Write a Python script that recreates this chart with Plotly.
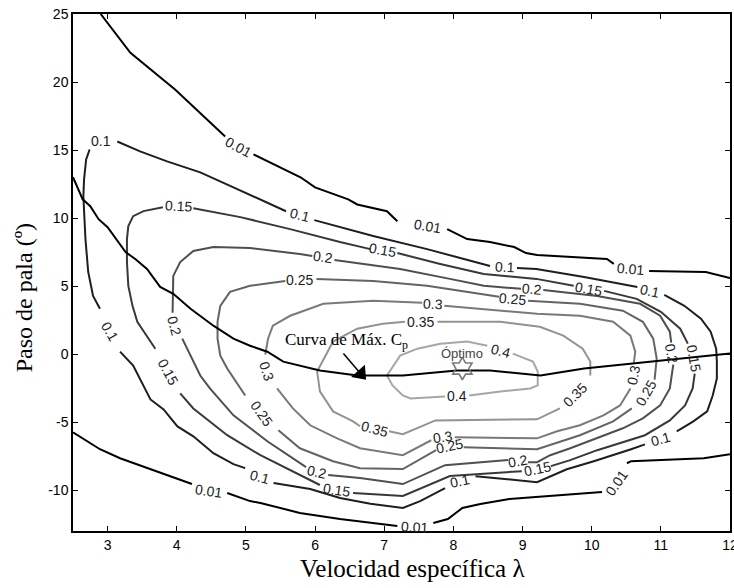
import plotly.graph_objects as go

# ---------------- data (lambda, pitch) ----------------
x_ticks = [3, 4, 5, 6, 7, 8, 9, 10, 11, 12]
y_ticks = [-10, -5, 0, 5, 10, 15, 20, 25]
y_tick_labels = ["-10", "-5", "0", "5", "10", "15", "20", "25"]

# Cp = 0.01 (two branches)
cp001_up_x = [2.90, 3.33, 3.98, 4.34, 4.70, None, 5.11, 5.40, 5.79, 6.00, 6.48, 6.61, 7.04, 7.19, None,
              7.91, 8.20, 8.53, 8.88, 9.05, 9.21, 10.22, 10.32, None, 10.83, 11.65, 12.0]
cp001_up_y = [25.0, 22.15, 19.44, 17.75, 16.0, None, 14.68, 13.95, 13.0, 12.26, 11.38, 11.0, 10.5, 9.77, None,
              9.19, 8.46, 8.24, 7.87, 7.43, 7.28, 7.0, 6.63, None, 6.11, 6.04, 5.6]
cp001_lo_x = [2.5, 2.89, 3.18, 3.62, 4.0, 4.22, None, 4.73, 5.06, 5.21, 5.78, 6.36, 6.94, 7.19, None,
              7.71, 7.92, 8.13, 8.39, 8.81, 9.21, 10.15, None, 10.51, 10.57, 11.62, 12.0]
cp001_lo_y = [-5.74, -6.99, -7.65, -8.45, -9.19, -9.55, None, -10.21, -10.8, -10.94, -11.67, -12.12, -12.48, -12.63, None,
              -12.41, -12.12, -11.31, -11.02, -10.65, -10.5, -10.14, None, -8.02, -7.87, -7.65, -7.36]

# Cp = 0.1
cp010_x = [3.14, 3.47, 3.86, 4.34, 4.82, 5.21, 5.58, None, 5.99, 6.84, 7.62, 8.53, None, 8.92, 9.2, 9.89, 10.66, None,
           11.05, 11.34, 11.58, 11.72, 11.8, 11.81, 11.81, 11.75, 11.67, 11.47, 11.23, None,
           10.77, 10.57, 10.03, 9.64, 9.21, 8.53, 8.32, None, 7.88, 7.52, 7.27, 6.8, 6.36, 5.93, 5.4, None,
           4.99, 4.82, 4.53, 4.24, 4.01, 3.81, 3.62, 3.52, 3.37, 3.18, None,
           2.89, 2.79, 2.72, 2.68, 2.65, 2.66, 2.69, 2.74]
cp010_y = [15.63, 14.9, 14.17, 13.36, 12.26, 11.38, 10.5, None, 9.85, 8.68, 7.72, 6.48, None, 6.33, 6.26, 5.67, 4.94, None,
           4.36, 3.55, 2.6, 1.65, 0.4, -0.55, -1.79, -3.04, -4.21, -4.94, -5.67, None,
           -6.63, -6.99, -7.87, -8.46, -9.41, -9.11, -8.97, None, -9.85, -10.8, -11.31, -11.0, -10.58, -9.92, -9.48, None,
           -8.38, -8.09, -7.28, -6.04, -5.31, -4.06, -3.33, -2.38, -0.84, 0.18, None,
           3.33, 4.28, 6.04, 8.46, 11.6, 12.85, 14.31, 15.04]

# Cp = 0.15
cp015_x = [4.24, 4.92, 5.64, 6.36, 6.80, None, 7.19, 7.81, 8.44, 9.2, 9.74, None, 10.18, 10.65, 11.0, 11.28, 11.39, None,
           11.49, 11.46, 11.35, 11.13, 10.77, 10.41, 10.08, 9.69, 9.41, None, 8.99, 7.95, 7.27, 6.55, None,
           6.07, 5.68, 5.21, 4.73, 4.24, 4.05, None, 3.69, 3.57, 3.43, 3.36, 3.3, 3.28, 3.28, 3.3, 3.37, 3.52, 3.8]
cp015_y = [10.73, 10.07, 9.19, 8.24, 7.72, None, 7.43, 6.63, 5.89, 5.53, 5.02, None, 4.65, 4.06, 3.11, 1.87, 0.77, None,
           -1.43, -2.52, -3.77, -4.87, -5.96, -6.55, -7.06, -7.79, -8.23, None, -8.6, -8.96, -10.43, -10.21, None,
           -9.62, -8.6, -7.43, -5.96, -3.99, -2.89, None, 0.4, 1.36, 2.38, 3.55, 5.02, 6.77, 8.46, 9.41, 10.14, 10.51, 10.8]

# Cp = 0.2
cp020_x = [6.28, 7.23, 7.95, 8.44, 8.98, None, 9.3, 10.08, 10.7, 10.99, 11.13, 11.15, None,
           11.18, 11.13, 10.99, 10.74, 10.45, 10.08, 9.69, 9.4, 9.21, 9.08, None, 8.79, 7.88, 7.27, 6.65, 6.19, None,
           5.87, 5.31, 4.82, 4.48, 4.34, 4.2, 4.08, None, 3.94, 3.94, 3.95, 4.05, 4.24, 4.53, 5.06, 5.78, 5.96]
cp020_y = [6.92, 6.26, 5.53, 5.02, 4.8, None, 4.72, 4.28, 3.7, 2.82, 1.65, 0.84, None,
           -0.77, -2.52, -3.77, -4.72, -5.45, -6.18, -6.92, -7.43, -7.94, -7.94, None, -7.79, -8.16, -9.55, -9.11, -8.89, None,
           -8.31, -6.4, -4.5, -2.52, -1.57, -0.11, 1.14, None, 3.04, 4.8, 5.75, 6.77, 7.58, 7.87, 7.8, 7.36, 7.21]

# Cp = 0.25
cp025_x = [6.02, 6.84, 7.62, 8.44, 8.66, None, 9.08, 9.83, 10.45, 10.74, 10.89, 10.94, 10.91, None,
           10.58, 10.31, 9.83, 9.4, 9.21, 8.15, None, 7.75, 7.27, 6.65, 6.26, 5.78, 5.47, None,
           4.99, 4.86, 4.73, 4.63, 4.59, 4.59, 4.63, 4.77, 5.06, 5.57]
cp025_y = [5.53, 5.38, 5.02, 4.36, 4.21, None, 3.92, 3.7, 3.19, 2.38, 1.14, -0.33, -1.87, None,
           -3.99, -4.94, -5.96, -6.7, -6.99, -6.84, None, -7.06, -8.45, -8.38, -7.87, -6.92, -5.6, None,
           -3.04, -2.08, -1.06, -0.11, 1.13, 2.38, 3.55, 4.58, 5.02, 5.38]

# Cp = 0.3
cp030_x = [7.87, 8.68, 9.21, 9.83, 10.31, 10.56, 10.63, 10.61, None, 10.56, 10.41, 10.17, 9.83, 9.5, 9.21, 8.02, None,
           7.68, 7.27, 6.65, 6.32, 5.93, 5.68, 5.45, None, 5.28, 5.32, 5.39, 5.64, 6.12, 6.84, 7.55]
cp030_y = [3.55, 3.19, 2.97, 2.82, 2.38, 1.36, 0.18, -0.62, None, -2.52, -3.77, -4.5, -5.23, -5.67, -6.19, -6.11, None,
           -6.33, -7.43, -6.92, -6.19, -5.23, -3.99, -2.52, None, -0.04, 1.13, 2.09, 2.82, 3.7, 3.92, 3.77]

# Cp = 0.35
cp035_x = [7.77, 8.68, 9.25, 9.59, 9.87, 9.98, 9.98, None, 9.54, 9.21, 7.74, 7.27, 7.07, None,
           6.65, 6.55, 6.26, 6.07, 6.03, 6.15, 6.26, 6.61, 6.98, 7.3]
cp035_y = [2.38, 2.38, 2.01, 1.36, 0.4, -0.55, -1.57, None, -3.99, -4.79, -4.87, -5.89, -5.67, None,
           -5.3, -4.94, -4.21, -2.74, -1.28, -0.18, 0.92, 1.87, 2.23, 2.38]

# Cp = 0.4
cp040_x = [8.49, 8.2, 7.81, 7.48, 7.23, 7.04, 7.12, 7.27, 7.38, 7.88, None, 8.23, 8.68, 9.11, 9.22, 9.22, 9.15, 8.86]
cp040_y = [0.62, 0.92, 0.77, 0.4, -0.11, -1.57, -2.3, -3.04, -3.26, -3.11, None, -3.04, -2.74, -2.52, -2.3, -1.28, -0.55, 0.04]

# Curve of maximum Cp
maxcp_x = [2.5, 2.64, 2.75, 2.87, 3.0, 3.26, 3.4, 3.57, 3.76, 3.95, 4.2, 4.53, 4.82, 5.06, 5.31, 5.54,
           6.07, 6.61, 7.27, 7.62, 8.05, 8.53, 9.26, 9.89, 10.86, 12.0]
maxcp_y = [13.0, 11.38, 10.87, 9.92, 9.33, 7.5, 6.99, 6.26, 4.94, 4.43, 3.33, 2.09, 1.14, 0.62, 0.18, -0.55,
           -1.21, -1.57, -1.57, -1.43, -1.21, -1.21, -1.57, -1.06, -0.55, 0.04]

# Optimum point
opt_x = [8.13]
opt_y = [-1.06]

# Arrow pointing to the max-Cp curve (tail, tip)
arrow_x = [6.41, 6.66]
arrow_y = [0.04, -1.45]

# Contour labels: text, lambda, pitch, angle
lab_text = ["0.01", "0.01", "0.01", "0.01", "0.01", "0.01",
            "0.1", "0.1", "0.1", "0.1", "0.1", "0.1", "0.1", "0.1",
            "0.15", "0.15", "0.15", "0.15", "0.15", "0.15", "0.15",
            "0.2", "0.2", "0.2", "0.2", "0.2", "0.2",
            "0.25", "0.25", "0.25", "0.25", "0.25",
            "0.3", "0.3", "0.3", "0.3",
            "0.35", "0.35", "0.35",
            "0.4", "0.4"]
lab_x = [4.89, 7.62, 10.56, 4.46, 7.44, 10.36,
         2.91, 5.78, 8.75, 10.84, 11.0, 8.1, 5.21, 3.04,
         4.02, 6.98, 9.96, 11.48, 9.21, 6.31, 3.88,
         6.12, 9.13, 11.16, 8.94, 6.03, 3.97,
         5.78, 8.86, 10.79, 7.95, 5.22,
         7.71, 10.6, 7.85, 5.31,
         7.53, 9.76, 6.86,
         8.69, 8.05]
lab_y = [15.26, 9.41, 6.26, -10.07, -12.7, -9.48,
         15.63, 10.21, 6.41, 4.65, -6.26, -9.33, -9.04, 1.65,
         10.87, 7.65, 4.79, -0.26, -8.45, -10.0, -1.28,
         7.14, 4.79, 0.04, -7.87, -8.67, 2.09,
         5.45, 4.06, -2.89, -6.77, -4.35,
         3.7, -1.5, -6.11, -1.28,
         2.38, -3.04, -5.52,
         0.26, -3.11]
lab_ang = [28, 10, 5, 8, 3, -55,
           0, 15, 3, 12, -15, -12, 15, 60,
           3, 10, 10, 80, -12, 8, 62,
           8, 5, 80, -10, 12, 75,
           0, 5, -60, -12, 55,
           3, -78, -8, 72,
           0, -45, 15,
           15, 0]

# ---------------- figure ----------------
fig = go.Figure()

levels = [
    (cp001_up_x, cp001_up_y, "#000000"),
    (cp001_lo_x, cp001_lo_y, "#000000"),
    (cp010_x, cp010_y, "#1e1e1e"),
    (cp015_x, cp015_y, "#383838"),
    (cp020_x, cp020_y, "#4f4f4f"),
    (cp025_x, cp025_y, "#646464"),
    (cp030_x, cp030_y, "#7a7a7a"),
    (cp035_x, cp035_y, "#939393"),
    (cp040_x, cp040_y, "#a6a6a6"),
]
for xs, ys, col in levels:
    fig.add_trace(go.Scatter(x=xs, y=ys, mode="lines", connectgaps=False,
                             line=dict(color=col, width=2), hoverinfo="skip", showlegend=False))

fig.add_trace(go.Scatter(x=maxcp_x, y=maxcp_y, mode="lines",
                         line=dict(color="#000000", width=2), showlegend=False))

fig.add_trace(go.Scatter(x=opt_x, y=opt_y, mode="markers",
                         marker=dict(symbol="hexagram-open", size=17, color="#7a7a7a",
                                     line=dict(width=1.6, color="#7a7a7a")),
                         showlegend=False))

# arrow: shaft + filled head
fig.add_trace(go.Scatter(x=arrow_x, y=arrow_y, mode="lines", line=dict(color="#000000", width=1.5),
                         hoverinfo="skip", showlegend=False))
fig.add_trace(go.Scatter(x=arrow_x[1:], y=arrow_y[1:], mode="markers",
                         marker=dict(symbol="triangle-up", size=16, angle=138, color="#000000",
                                     line=dict(width=0)),
                         hoverinfo="skip", showlegend=False))

ann = []
for t, lx, ly, a in zip(lab_text, lab_x, lab_y, lab_ang):
    ann.append(dict(x=lx, y=ly, xref="x", yref="y", text=t, textangle=a, showarrow=False,
                    font=dict(family="Liberation Sans, Arial", size=14, color="#222222")))

ann.append(dict(x=opt_x[0], y=opt_y[0] + 1.1, xref="x", yref="y", text="Óptimo", showarrow=False,
                font=dict(family="Liberation Sans, Arial", size=13, color="#444444")))
ann.append(dict(x=6.46, y=0.95, xref="x", yref="y", text="Curva de Máx. C<sub>p</sub>", showarrow=False,
                font=dict(family="Liberation Serif, Times New Roman", size=17, color="#000000")))

ann.append(dict(x=0.5175, y=-0.072, xref="paper", yref="paper", text="Velocidad específica λ",
                showarrow=False, yanchor="middle",
                font=dict(family="Liberation Serif, Times New Roman", size=25, color="#000000")))
ann.append(dict(x=-0.0746, y=0.452, xref="paper", yref="paper", text="Paso de pala (º)", textangle=-90,
                showarrow=False, xanchor="center",
                font=dict(family="Liberation Serif, Times New Roman", size=24, color="#000000")))

axis_common = dict(showgrid=False, zeroline=False, showline=True, mirror="allticks", linecolor="#000000",
                   linewidth=1.5, ticks="inside", ticklen=5, tickwidth=1, tickcolor="#000000",
                   automargin=False, ticklabeloverflow="allow",
                   tickfont=dict(family="Liberation Sans, Arial", size=14, color="#000000"))

fig.update_layout(
    width=734, height=588,
    margin=dict(l=73, r=4, t=14, b=57, autoexpand=False),
    paper_bgcolor="white", plot_bgcolor="white",
    xaxis=dict(range=[2.5, 12], tickvals=x_ticks, **axis_common),
    yaxis=dict(range=[-13, 25], tickvals=y_ticks, ticktext=y_tick_labels, **axis_common),
    annotations=ann,
    showlegend=False,
)

fig.write_html("out.html", config={"displayModeBar": False},
               post_script="document.body.style.margin='0';")
